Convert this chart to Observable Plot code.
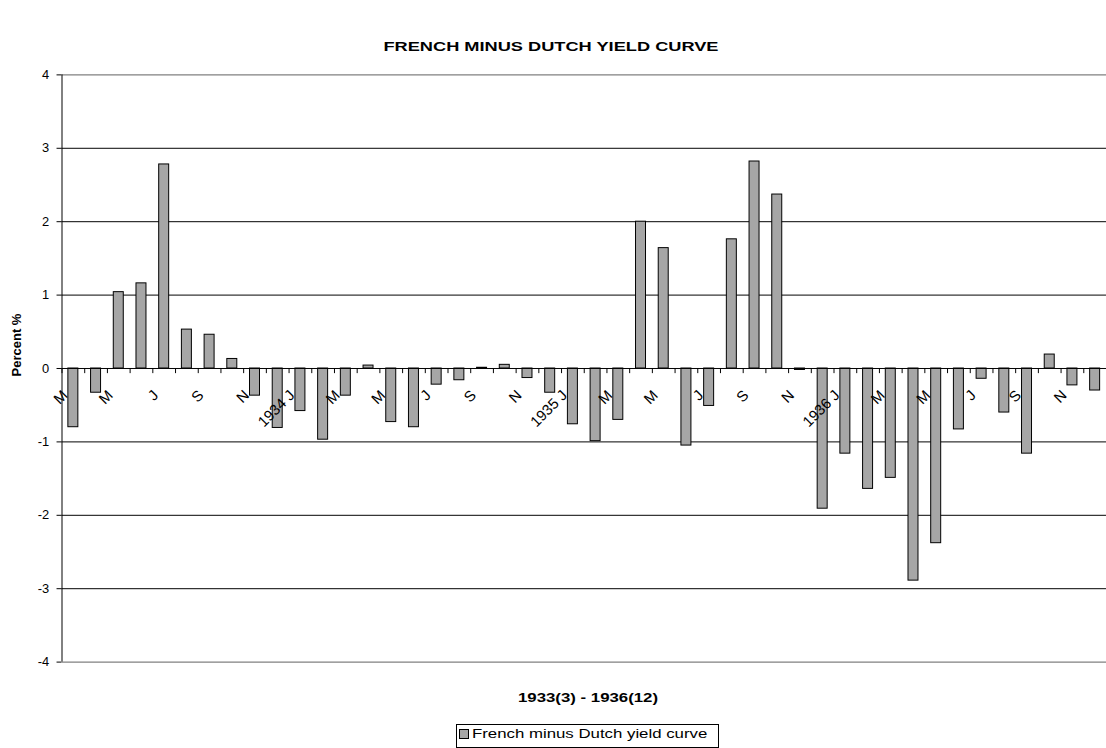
<!DOCTYPE html>
<html><head><meta charset="utf-8">
<script src="https://cdn.jsdelivr.net/npm/d3@7"></script>
<script src="https://cdn.jsdelivr.net/npm/@observablehq/plot@0.6"></script>
<style>
html,body{margin:0;padding:0;overflow:hidden;background:#fff;}
#wrap{position:relative;width:1106px;height:748px;overflow:hidden;font-family:"Liberation Sans",Arial,sans-serif;color:#000;}
#chart{position:absolute;left:0;top:0;}
.t{position:absolute;white-space:nowrap;line-height:1;}
</style></head><body><div id="wrap"><div id="chart"></div></div>
<script>
const months = [
  "1933-03","1933-04","1933-05","1933-06","1933-07","1933-08","1933-09","1933-10","1933-11","1933-12",
  "1934-01","1934-02","1934-03","1934-04","1934-05","1934-06","1934-07","1934-08","1934-09","1934-10","1934-11","1934-12",
  "1935-01","1935-02","1935-03","1935-04","1935-05","1935-06","1935-07","1935-08","1935-09","1935-10","1935-11","1935-12",
  "1936-01","1936-02","1936-03","1936-04","1936-05","1936-06","1936-07","1936-08","1936-09","1936-10","1936-11","1936-12"
];
const values = [
  -0.80,-0.33,1.04,1.16,2.78,0.53,0.46,0.13,-0.37,-0.81,
  -0.58,-0.97,-0.37,0.04,-0.73,-0.80,-0.22,-0.16,0.01,0.05,-0.13,-0.33,
  -0.76,-0.99,-0.70,2.00,1.64,-1.05,-0.51,1.76,2.82,2.37,-0.02,-1.91,
  -1.16,-1.64,-1.49,-2.89,-2.38,-0.83,-0.14,-0.60,-1.16,0.19,-0.23,-0.30
];
const tickMonths = ["1933-03","1933-05","1933-07","1933-09","1933-11","1934-01","1934-03","1934-05","1934-07","1934-09","1934-11",
  "1935-01","1935-03","1935-05","1935-07","1935-09","1935-11","1936-01","1936-03","1936-05","1936-07","1936-09","1936-11"];
const tickLabels = ["M","M","J","S","N","1934 J","M","M","J","S","N","1935 J","M","M","J","S","N","1936 J","M","M","J","S","N"];
const yTicks = [-4,-3,-2,-1,0,1,2,3,4];
const gridValues = [-3,-2,-1,1,2,3];
const borderValues = [-4,4];
const title = "FRENCH MINUS DUTCH YIELD CURVE";
const xTitle = "1933(3)  - 1936(12)";
const yTitle = "Percent %";
const seriesName = "French minus Dutch yield curve";

const data = months.map((m,i)=>({month:m, value:values[i]}));
const labelData = tickMonths.map((m,i)=>({month:m, label:tickLabels[i]}));

const W = 1115, ML = 62;
const step = (W - ML) / months.length;

const chart = Plot.plot({
  width: W, height: 748,
  marginLeft: ML, marginRight: 0, marginTop: 75, marginBottom: 81,
  style: {fontFamily: '"Liberation Sans", Arial, sans-serif', fontSize: "13px", color: "#000", background: "transparent", overflow: "visible"},
  x: {type: "band", domain: months, paddingInner: 0.56, paddingOuter: 0.28, axis: null},
  y: {domain: [-4, 4], ticks: yTicks, tickSize: 5, tickPadding: 8, label: null, tickFormat: d => String(d)},
  marks: [
    Plot.ruleY(gridValues, {stroke: "#000", strokeWidth: 1}),
    Plot.ruleY(borderValues, {stroke: "#808080", strokeWidth: 1.3}),
    Plot.barY(data, {x: "month", y: "value", fill: "#a6a6a6", stroke: "#000", strokeWidth: 1}),
    Plot.ruleY([0], {stroke: "#000", strokeWidth: 1}),
    Plot.ruleX(months, {x: d => d, y1: 0, y2: -0.07, dx: -step/2, stroke: "#000"}),
    Plot.ruleX([months[0]], {x: d => d, y1: -4, y2: 4, dx: -step/2, stroke: "#000"}),
    Plot.text(labelData, {x: "month", y: () => 0, text: "label", rotate: -45, textAnchor: "end", lineAnchor: "bottom", dx: -5, dy: 28, fontSize: 15, fill: "#000"})
  ]
});
document.getElementById("chart").appendChild(chart);

const wrap = document.getElementById("wrap");
function addText(txt, css){ const d=document.createElement("div"); d.className="t"; d.textContent=txt; Object.assign(d.style, css); wrap.appendChild(d); return d; }
addText(title, {left:"551px", top:"40px", fontSize:"13px", fontWeight:"bold", transform:"translateX(-50%) scaleX(1.4)"});
addText(xTitle, {left:"588px", top:"692px", fontSize:"12px", fontWeight:"bold", transform:"translateX(-50%) scaleX(1.4)"});
addText(yTitle, {left:"16px", top:"345px", fontSize:"13px", fontWeight:"bold", transform:"translate(-50%,-50%) rotate(-90deg)"});

const box = document.createElement("div");
Object.assign(box.style, {position:"absolute", left:"456px", top:"724px", width:"261px", height:"22px", border:"1px solid #000", background:"#fff"});
wrap.appendChild(box);
const sw = document.createElement("div");
Object.assign(sw.style, {position:"absolute", left:"2px", top:"4px", width:"8px", height:"8px", border:"1px solid #000", background:"#a6a6a6"});
box.appendChild(sw);
const lt = document.createElement("div");
lt.className = "t"; lt.textContent = seriesName;
Object.assign(lt.style, {left:"15px", top:"3px", fontSize:"12px", transformOrigin:"left center", transform:"scaleX(1.4)"});
box.appendChild(lt);
</script>
</body></html>
